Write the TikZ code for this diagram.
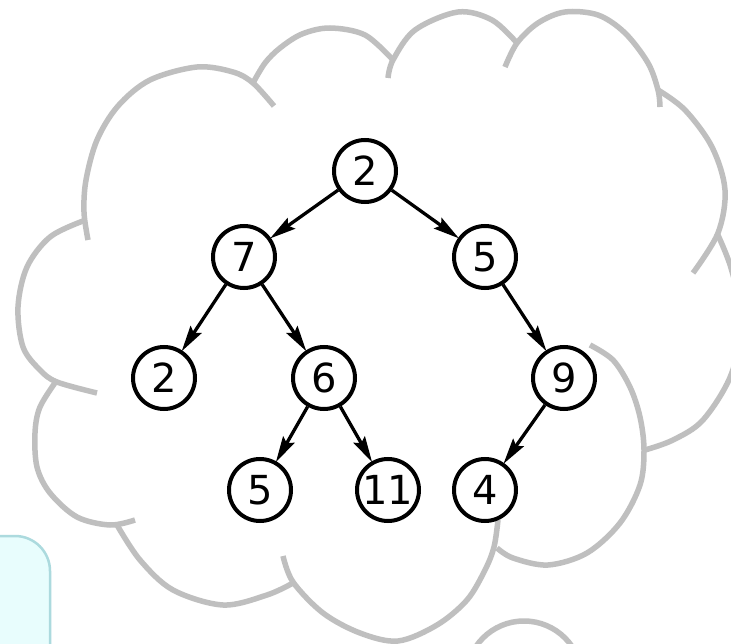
\documentclass[tikz,border=0pt]{standalone}
\usepackage{fontspec}
\setmainfont{DejaVu Sans}
\usetikzlibrary{arrows.meta}
\definecolor{cloudgray}{RGB}{191,191,191}
\definecolor{boxfill}{RGB}{232,253,253}
\definecolor{boxline}{RGB}{172,218,222}
\tikzset{
  cloudline/.style={draw=cloudgray, line width=5.5pt},
  treenode/.style={circle, draw=black, line width=4pt, fill=white, minimum size=62pt, inner sep=0pt, font=\fontsize{40}{40}\selectfont},
  treeedge/.style={line width=3.3pt, -{Stealth[length=26pt,width=13pt,inset=4pt]}, shorten >=-1pt},
}
\begin{document}
\begin{tikzpicture}[x=1pt,y=-1pt]
\useasboundingbox (0,0) rectangle (731,644);
\clip (0,0) rectangle (731,644);
\fill[white] (0,0) rectangle (731,644);
% cyan box
\draw[draw=boxline, fill=boxfill, line width=2.5pt, rounded corners=35pt] (-40,536) rectangle (50,720);
% cloud
\draw[cloudline] plot[smooth, tension=0.55] coordinates {(83,221) (50,237) (27,267) (18,307) (23,347) (40,370) (57,382) (97,393)};
\draw[cloudline] plot[smooth, tension=0.55] coordinates {(88,240) (84,212) (86,180) (97,140) (118,106) (150,80) (197,67) (233,72) (253,83) (274,106)};
\draw[cloudline] plot[smooth, tension=0.55] coordinates {(253,83) (265,63) (280,48) (302,34) (330,28) (365,35) (393,60)};
\draw[cloudline] plot[smooth, tension=0.55] coordinates {(388,78) (393,60) (415,30) (458,12) (492,20) (517,43)};
\draw[cloudline] plot[smooth, tension=0.55] coordinates {(505,67) (517,43) (538,23) (565,12) (598,15) (625,33) (648,63) (658,90) (660,107)};
\draw[cloudline] plot[smooth, tension=0.55] coordinates {(658,90) (685,110) (712,147) (725,190) (718,233) (693,273)};
\draw[cloudline] plot[smooth, tension=0.55] coordinates {(717,233) (731,268) (742,320) (731,375) (703,420) (673,440) (645,450)};
\draw[cloudline] plot[smooth, tension=0.55] coordinates {(590,345) (613,360) (630,387) (640,417) (644,450) (640,485) (620,523) (587,553) (548,565) (513,558) (497,548)};
\draw[cloudline] plot[smooth, tension=0.55] coordinates {(283,556) (293,582) (323,613) (360,633) (398,641) (437,625) (467,600) (485,570) (494,547) (498,520)};
\draw[cloudline] plot[smooth, tension=0.55] coordinates {(117,525) (140,560) (173,590) (223,605) (267,595) (293,583)};
\draw[cloudline] plot[smooth, tension=0.55] coordinates {(57,380) (40,407) (35,433) (37,467) (50,493) (77,517) (110,525) (135,520)};
\draw[cloudline] (524,679) circle[radius=58];
% tree
\node[treenode] (r) at (365,171) {2};
\node[treenode] (a) at (244,257) {7};
\node[treenode] (b) at (485,257) {5};
\node[treenode] (c) at (164,378) {2};
\node[treenode] (d) at (324,378) {6};
\node[treenode] (e) at (564,378) {9};
\node[treenode] (f) at (260,490) {5};
\node[treenode] (g) at (388,490) {11};
\node[treenode] (h) at (485,490) {4};
\draw[treeedge] (r) -- (a);
\draw[treeedge] (r) -- (b);
\draw[treeedge] (a) -- (c);
\draw[treeedge] (a) -- (d);
\draw[treeedge] (d) -- (f);
\draw[treeedge] (d) -- (g);
\draw[treeedge] (b) -- (e);
\draw[treeedge] (e) -- (h);
\end{tikzpicture}
\end{document}
